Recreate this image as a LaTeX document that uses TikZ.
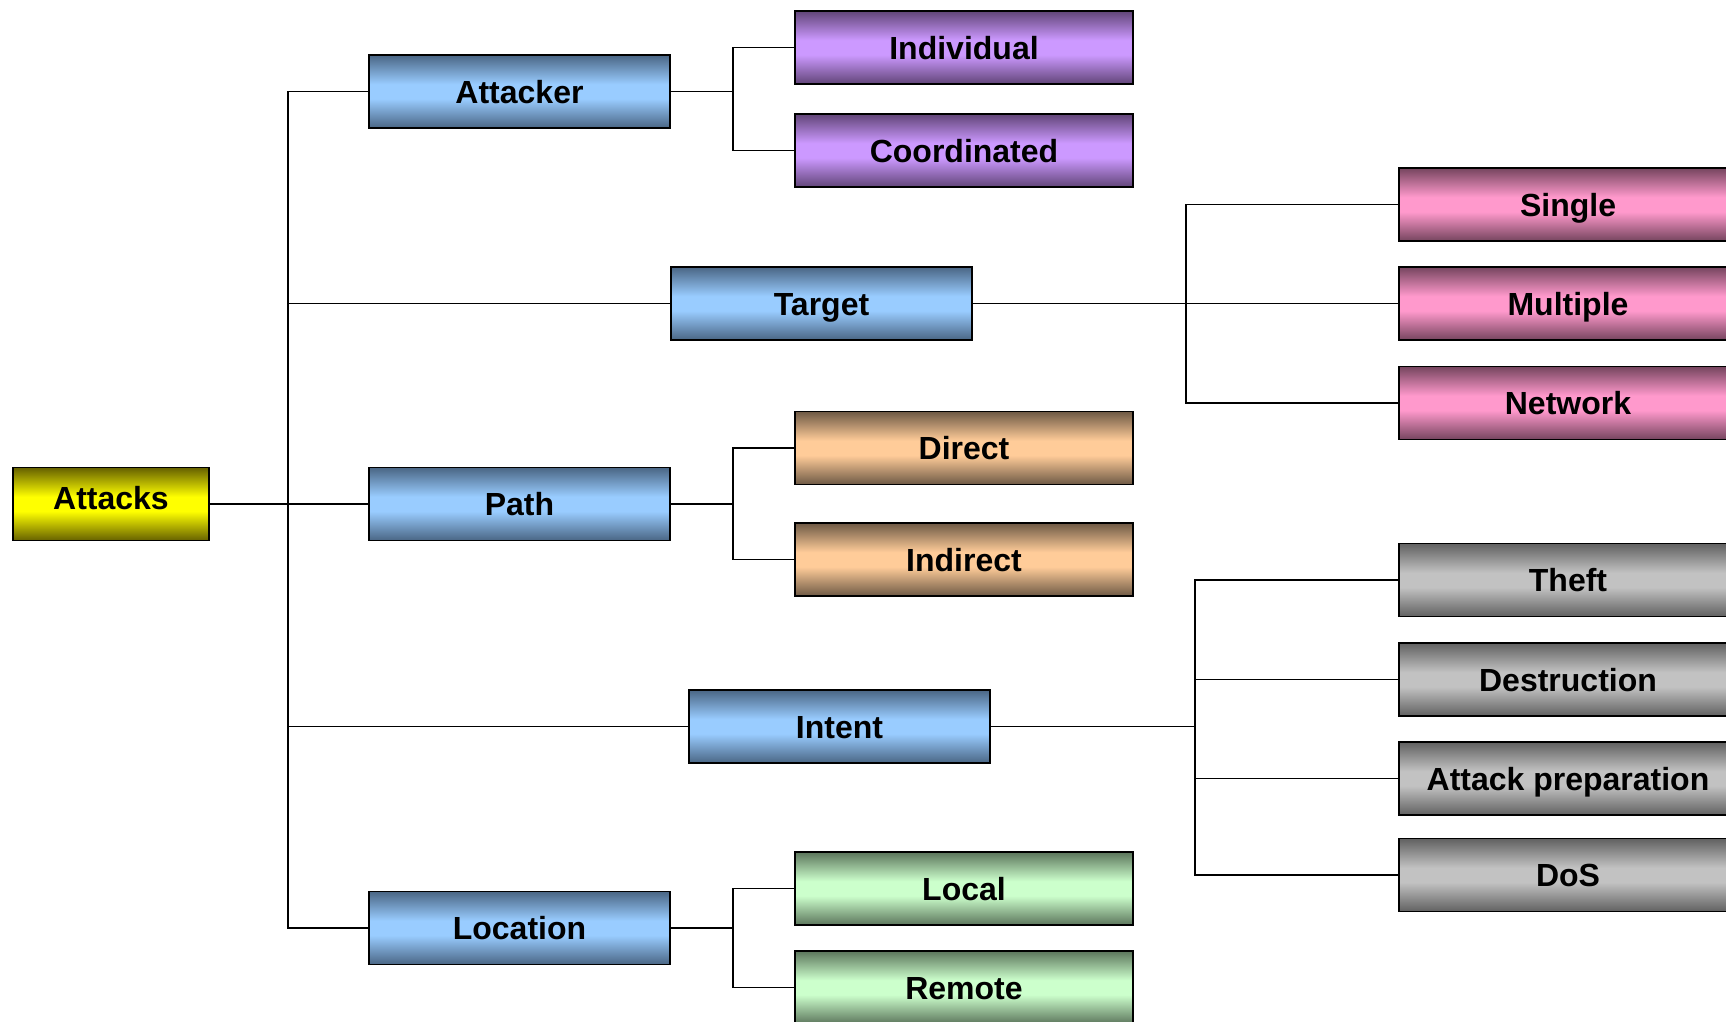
\documentclass[tikz,border=0pt]{standalone}
\usepackage{fontspec}
\setmainfont{Liberation Sans}
\usetikzlibrary{calc}

% vertical shading: dark rim at top and bottom, light band in the middle
\newcommand\mkshade[3]{%
  \pgfdeclareverticalshading{#1}{100bp}{rgb(0bp)=(#2); rgb(25bp)=(#2);
    rgb(45bp)=(#3); rgb(55bp)=(#3); rgb(75bp)=(#2); rgb(100bp)=(#2)}}
\mkshade{shyellow}{0.40,0.38,0.0}{1.0,1.0,0.0}
\mkshade{shblue}{0.29,0.40,0.52}{0.6,0.8,1.0}
\mkshade{shpurple}{0.38,0.27,0.47}{0.8,0.6,1.0}
\mkshade{shpink}{0.46,0.27,0.37}{1.0,0.6,0.8}
\mkshade{shpeach}{0.43,0.35,0.27}{1.0,0.8,0.6}
\mkshade{shgray}{0.38,0.38,0.38}{0.76,0.76,0.76}
\mkshade{shgreen}{0.36,0.46,0.36}{0.8,1.0,0.8}

\tikzset{
  box/.style={draw=black, line width=1.8pt, minimum height=73pt, inner sep=0pt,
    text height=23pt, text depth=0pt,
    font=\fontsize{32}{38}\selectfont\bfseries, text=black},
  rootbox/.style={box, shading=shyellow, minimum width=196pt, text depth=13pt},
  catbox/.style={box, shading=shblue, minimum width=301pt},
  purplebox/.style={box, shading=shpurple, minimum width=338pt},
  pinkbox/.style={box, shading=shpink, minimum width=338pt},
  peachbox/.style={box, shading=shpeach, minimum width=338pt},
  graybox/.style={box, shading=shgray, minimum width=338pt},
  greenbox/.style={box, shading=shgreen, minimum width=338pt},
  link/.style={draw=black, line width=1.8pt},
}

\begin{document}
\begin{tikzpicture}[x=1pt, y=-1pt]
\useasboundingbox (0,0) rectangle (1726,1021);
\clip (0,0) rectangle (1726,1021);
\fill[white] (0,0) rectangle (1726,1021);

% root and first-level categories
\node[rootbox] (attacks) at (111,504) {Attacks};
\node[catbox] (attacker) at (519.5,91.5) {Attacker};
\node[catbox] (target) at (821.5,303.5) {Target};
\node[catbox] (path) at (519.5,504) {Path};
\node[catbox] (intent) at (839.5,726.5) {Intent};
\node[catbox] (location) at (519.5,928) {Location};

% leaves
\node[purplebox] (individual) at (964,47.5) {Individual};
\node[purplebox] (coordinated) at (964,150.5) {Coordinated};
\node[pinkbox] (single) at (1568,204.5) {Single};
\node[pinkbox] (multiple) at (1568,303.5) {Multiple};
\node[pinkbox] (network) at (1568,403) {Network};
\node[peachbox] (direct) at (964,448) {Direct};
\node[peachbox] (indirect) at (964,559.5) {Indirect};
\node[graybox] (theft) at (1568,580) {Theft};
\node[graybox] (destruction) at (1568,679.5) {Destruction};
\node[graybox] (prep) at (1568,778.5) {Attack preparation};
\node[graybox] (dos) at (1568,875) {DoS};
\node[greenbox] (local) at (964,888.5) {Local};
\node[greenbox] (remote) at (964,987.5) {Remote};

% bracket columns
\coordinate (trunk) at (288,0);
\coordinate (b1) at (733,0);
\coordinate (b2) at (1186,0);
\coordinate (b3) at (1195,0);

% root to categories
\draw[link] (attacks.east) -- (attacks.east -| trunk);
\draw[link] (attacker.west) -| (location.west -| trunk) -- (location.west);
\draw[link] (target.west) -- (target.west -| trunk);
\draw[link] (path.west) -- (path.west -| trunk);
\draw[link] (intent.west) -- (intent.west -| trunk);

% attacker
\draw[link] (attacker.east) -- (attacker.east -| b1);
\draw[link] (individual.west) -| (coordinated.west -| b1) -- (coordinated.west);

% target
\draw[link] (target.east) -- (multiple.west);
\draw[link] (single.west) -| (network.west -| b2) -- (network.west);

% path
\draw[link] (path.east) -- (path.east -| b1);
\draw[link] (direct.west) -| (indirect.west -| b1) -- (indirect.west);

% intent
\draw[link] (intent.east) -- (intent.east -| b3);
\draw[link] (theft.west) -| (dos.west -| b3) -- (dos.west);
\draw[link] (destruction.west) -- (destruction.west -| b3);
\draw[link] (prep.west) -- (prep.west -| b3);

% location
\draw[link] (location.east) -- (location.east -| b1);
\draw[link] (local.west) -| (remote.west -| b1) -- (remote.west);
\end{tikzpicture}
\end{document}
